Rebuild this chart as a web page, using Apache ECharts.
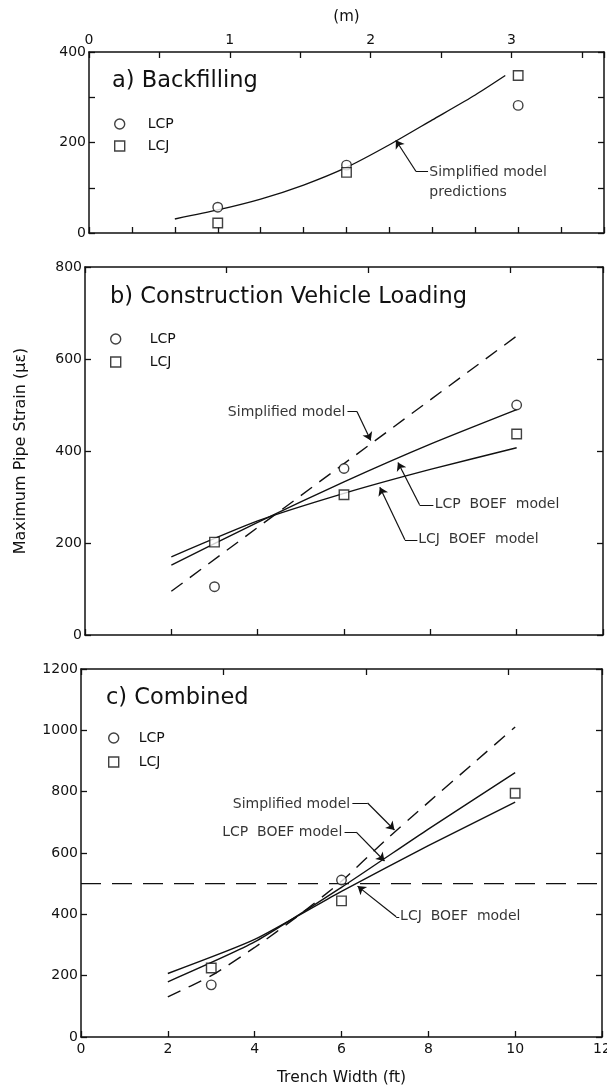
<!DOCTYPE html>
<html>
<head>
<meta charset="utf-8">
<script src="https://cdn.jsdelivr.net/npm/echarts@6/dist/echarts.min.js"></script>
<style>
  html, body { margin: 0; padding: 0; background: #fff; }
  #chart { width: 607px; height: 1086px; }
</style>
</head>
<body>
<div id="chart"></div>
<script>
// ---------- data ----------
const FT_PER_M = 3.2808;
const X_MAX_FT = 12;

// a) Backfilling
const aTestWidths = [3, 6, 10];
const aLCP = [57, 150, 282];
const aLCJ = [22, 134, 348];
const aModelWidths = [2, 3, 4, 5, 6, 7, 8, 9, 9.7];
const aModel = [31, 51, 75, 106, 145, 195, 250, 305, 348];

// b) Construction Vehicle Loading
const bTestWidths = [3, 6, 10];
const bLCP = [105, 362, 500];
const bLCJ = [202, 305, 437];
const bSimplWidths = [2, 10];
const bSimpl = [95, 650];
const bBoefWidths = [2, 4, 6, 8, 10];
const bLcpBoef = [152, 245, 333, 415, 490];
const bLcjBoef = [170, 248, 308, 360, 407];

// c) Combined
const cLcpWidths = [3, 6];
const cLCP = [170, 512];
const cLcjWidths = [3, 6, 10];
const cLCJ = [225, 444, 795];
const cSimplWidths = [2, 3, 4, 5, 6, 7, 8, 9, 10];
const cSimpl = [131, 200, 292, 395, 508, 640, 765, 888, 1011];
const cBoefWidths = [2, 4, 6, 8, 10];
const cLcpBoef = [180, 310, 488, 678, 862];
const cLcjBoef = [207, 318, 475, 624, 766];
const cLimit = [500, 500];
const cLimitWidths = [0, 12];

const panelTitles = ['a) Backfilling', 'b) Construction Vehicle Loading', 'c) Combined'];
const yMax = [400, 800, 1200];
const yStep = [100, 200, 200];
const xStep = [1, 2, 2];
const mStep = [0.5, 1, 1];

// annotations (text + leader lines, in data units)
const notes = [
  { g: 0, text: 'Simplified model', at: [7.93, 134], side: 'right' },
  { g: 0, text: 'predictions', at: [7.93, 89], side: 'right' },
  { g: 1, text: 'Simplified model', at: [6.03, 484], side: 'left' },
  { g: 1, text: 'LCP  BOEF  model', at: [8.1, 283], side: 'right' },
  { g: 1, text: 'LCJ  BOEF  model', at: [7.72, 207], side: 'right' },
  { g: 2, text: 'Simplified model', at: [6.2, 760], side: 'left' },
  { g: 2, text: 'LCP  BOEF model', at: [6.02, 668], side: 'left' },
  { g: 2, text: 'LCJ  BOEF  model', at: [7.35, 392], side: 'right' }
];
const leaders = [
  { g: 0, path: [[7.9, 136], [7.62, 136], [7.15, 205]] },
  { g: 1, path: [[6.08, 486], [6.3, 486], [6.62, 423]] },
  { g: 1, path: [[8.07, 283], [7.75, 283], [7.25, 375]] },
  { g: 1, path: [[7.7, 207], [7.41, 207], [6.83, 321]] },
  { g: 2, path: [[6.25, 763], [6.6, 763], [7.22, 675]] },
  { g: 2, path: [[6.07, 668], [6.34, 668], [6.99, 574]] },
  { g: 2, path: [[7.33, 392], [7.26, 392], [6.37, 492]] }
];

// ---------- chart ----------
const FONT = 'DejaVu Sans';
const INK = '#111';
const pairs = (xs, ys) => xs.map((x, i) => [x, ys[i]]);

const grids = [
  { left: 89, top: 52, width: 515, height: 181, outerBoundsMode: 'none', containLabel: false },
  { left: 85, top: 267, width: 518, height: 368, outerBoundsMode: 'none', containLabel: false },
  { left: 81, top: 669, width: 521, height: 368, outerBoundsMode: 'none', containLabel: false }
];

const axisLine = { show: true, onZero: false, lineStyle: { color: INK, width: 1.5 } };
const tick = { show: true, inside: true, length: 6, lineStyle: { color: INK, width: 1.3 } };
const lbl = { color: INK, fontFamily: FONT, fontSize: 14 };

const xAxes = [], yAxes = [];
grids.forEach((g, i) => {
  xAxes.push({
    type: 'value', gridIndex: i, position: 'bottom', min: 0, max: X_MAX_FT, interval: xStep[i],
    axisLine, axisTick: tick, splitLine: { show: false },
    axisLabel: i === 2 ? Object.assign({ margin: 5 }, lbl) : { show: false },
    name: i === 2 ? 'Trench Width (ft)' : '', nameLocation: 'middle', nameGap: 33,
    nameTextStyle: { color: INK, fontFamily: FONT, fontSize: 15.5 }
  });
  xAxes.push({
    type: 'value', gridIndex: i, position: 'top', min: 0, max: X_MAX_FT / FT_PER_M, interval: mStep[i],
    axisLine, axisTick: tick, splitLine: { show: false },
    axisLabel: i === 0 ? Object.assign({ margin: 5, formatter: v => (Math.abs(v - Math.round(v)) < 1e-9 ? String(Math.round(v)) : '') }, lbl) : { show: false },
    name: i === 0 ? '(m)' : '', nameLocation: 'middle', nameGap: 27,
    nameTextStyle: { color: INK, fontFamily: FONT, fontSize: 15 }
  });
  yAxes.push({
    type: 'value', gridIndex: i, position: 'left', min: 0, max: yMax[i], interval: yStep[i],
    axisLine, axisTick: tick, splitLine: { show: false },
    axisLabel: Object.assign({ margin: 3, formatter: v => (i === 0 && v % 200 !== 0 ? '' : String(v)) }, lbl),
    name: i === 1 ? 'Maximum Pipe Strain (\u03bc\u03b5)' : '', nameLocation: 'middle', nameGap: 56,
    nameTextStyle: { color: INK, fontFamily: FONT, fontSize: 16 }
  });
  yAxes.push({
    type: 'value', gridIndex: i, position: 'right', min: 0, max: yMax[i], interval: yStep[i],
    axisLine, axisTick: tick, splitLine: { show: false }, axisLabel: { show: false }
  });
});

const solid = { color: INK, width: 1.4, type: 'solid' };
const dashed = { color: INK, width: 1.4, type: [14, 9] };
function lineSeries(g, data, style, smooth) {
  return {
    type: 'line', xAxisIndex: g * 2, yAxisIndex: g * 2, data, showSymbol: false, symbol: 'none',
    smooth: smooth ? 0.2 : false, lineStyle: style, silent: true, z: 2, animation: false
  };
}
const markerStyle = { color: '#fff', borderColor: INK, borderWidth: 1.4 };
function pointSeries(g, name, symbol, data) {
  return {
    type: 'scatter', name, xAxisIndex: g * 2, yAxisIndex: g * 2, data, symbol, symbolSize: 9.5,
    itemStyle: markerStyle, z: 4, silent: true, animation: false
  };
}

const series = [
  lineSeries(0, pairs(aModelWidths, aModel), solid, true),
  pointSeries(0, 'LCP', 'circle', pairs(aTestWidths, aLCP)),
  pointSeries(0, 'LCJ', 'rect', pairs(aTestWidths, aLCJ)),

  lineSeries(1, pairs(bSimplWidths, bSimpl), dashed, false),
  lineSeries(1, pairs(bBoefWidths, bLcpBoef), solid, true),
  lineSeries(1, pairs(bBoefWidths, bLcjBoef), solid, true),
  pointSeries(1, 'LCP', 'circle', pairs(bTestWidths, bLCP)),
  pointSeries(1, 'LCJ', 'rect', pairs(bTestWidths, bLCJ)),

  lineSeries(2, pairs(cLimitWidths, cLimit), { color: INK, width: 1.4, type: [20, 11] }, false),
  lineSeries(2, pairs(cSimplWidths, cSimpl), dashed, true),
  lineSeries(2, pairs(cBoefWidths, cLcpBoef), solid, true),
  lineSeries(2, pairs(cBoefWidths, cLcjBoef), solid, true),
  pointSeries(2, 'LCP', 'circle', pairs(cLcpWidths, cLCP)),
  pointSeries(2, 'LCJ', 'rect', pairs(cLcjWidths, cLCJ))
];

// annotation texts
[0, 1, 2].forEach(g => {
  series.push({
    type: 'scatter', xAxisIndex: g * 2, yAxisIndex: g * 2, symbolSize: 0, silent: true, z: 5, animation: false,
    data: notes.filter(n => n.g === g).map(n => ({
      value: n.at,
      label: { show: true, position: n.side, distance: 0, formatter: n.text, color: '#000', fontFamily: FONT, fontSize: 14 }
    }))
  });
  const ls = leaders.filter(l => l.g === g);
  series.push({
    type: 'lines', coordinateSystem: 'cartesian2d', xAxisIndex: g * 2, yAxisIndex: g * 2, silent: true, z: 5,
    animation: false, symbol: ['none', 'none'],
    lineStyle: { color: INK, width: 1.2, opacity: 1, curveness: 0 },
    data: ls.map(l => ({ coords: [l.path[0], l.path[1]] }))
  });
  series.push({
    type: 'lines', coordinateSystem: 'cartesian2d', xAxisIndex: g * 2, yAxisIndex: g * 2, silent: true, z: 5,
    animation: false, symbol: ['none', 'arrow'], symbolSize: 8,
    lineStyle: { color: INK, width: 1.2, opacity: 1, curveness: 0 },
    data: ls.map(l => ({ coords: [l.path[1], l.path[2]] }))
  });
});

const legendPos = [
  { left: 114, top: 117, pad: 18, gap: 8 },
  { left: 110, top: 332, pad: 24, gap: 9 },
  { left: 108, top: 731, pad: 15, gap: 10 }
];
const legends = legendPos.map(p => ({
  left: p.left, top: p.top, orient: 'vertical', itemWidth: 10, itemHeight: 10, itemGap: p.gap,
  selectedMode: false, padding: 0,
  data: [{ name: 'LCP', icon: 'circle' }, { name: 'LCJ', icon: 'rect' }],
  itemStyle: { color: '#fff', borderColor: INK, borderWidth: 1.4 },
  textStyle: { color: INK, fontFamily: FONT, fontSize: 14, padding: [0, 0, 0, p.pad] }
}));

const titlePos = [[112, 70], [110, 286], [106, 687]];
const titles = panelTitles.map((t, i) => ({
  text: t, left: titlePos[i][0], top: titlePos[i][1], padding: 0,
  textStyle: { color: INK, fontFamily: FONT, fontSize: 22.5, fontWeight: 'normal' }
}));

const chart = echarts.init(document.getElementById('chart'), null, { renderer: 'canvas' });
chart.setOption({
  backgroundColor: '#fff',
  animation: false,
  title: titles,
  legend: legends,
  grid: grids,
  xAxis: xAxes,
  yAxis: yAxes,
  series
});
</script>
</body>
</html>
